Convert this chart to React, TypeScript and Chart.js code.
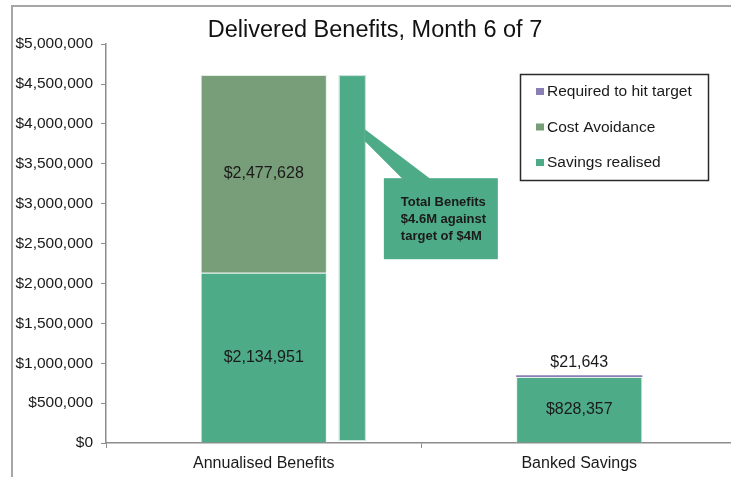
import React, { useEffect, useRef } from "react";
import { Chart, registerables } from "chart.js";

Chart.register(...registerables);

const categories = ["Annualised Benefits", "Banked Savings"];
const savingsRealised = [2134951, 828357];
const costAvoidance = [2477628, 0];
const requiredToHitTarget = [0, 21643];
const yTickStep = 500000;
const yMax = 5000000;
const titleText = "Delivered Benefits, Month 6 of 7";
const calloutLines = ["Total Benefits", "$4.6M against", "target of $4M"];

const C_SAV = "#4eab88";
const C_COST = "#789d79";
const C_REQ = "#8a7fb4";
const FONT = "'Liberation Sans', Arial, sans-serif";

const fmt = (v: number) => "$" + Math.round(v).toLocaleString("en-US");

const framePlugin = {
  id: "frame",
  beforeDraw(chart: any) {
    const ctx = chart.ctx;
    ctx.save();
    ctx.fillStyle = "#ffffff";
    ctx.fillRect(0, 0, chart.width, chart.height);
    ctx.strokeStyle = "#a6a6a6";
    ctx.lineWidth = 2;
    ctx.beginPath();
    ctx.moveTo(12, chart.height);
    ctx.lineTo(12, 6);
    ctx.lineTo(chart.width, 6);
    ctx.stroke();
    ctx.restore();
  },
};

const labelsPlugin = {
  id: "valueLabels",
  afterDatasetsDraw(chart: any) {
    const ctx = chart.ctx;
    ctx.save();
    ctx.font = `16px ${FONT}`;
    ctx.fillStyle = "#1a1a1a";
    ctx.textAlign = "center";
    ctx.textBaseline = "middle";
    chart.data.datasets.forEach((ds: any, di: number) => {
      const meta = chart.getDatasetMeta(di);
      meta.data.forEach((el: any, i: number) => {
        const v = ds.data[i];
        if (!v) return;
        if (ds.labelAbove) {
          ctx.fillText(fmt(v), el.x, el.y - 13);
        } else {
          ctx.fillText(fmt(v), el.x, (el.y + el.base) / 2);
        }
      });
    });
    ctx.restore();
  },
};

const calloutPlugin = {
  id: "callout",
  afterDatasetsDraw(chart: any) {
    const ctx = chart.ctx;
    const y = chart.scales.y;
    const meta = chart.getDatasetMeta(0);
    const el = meta.data[0];
    const total = savingsRealised[0] + costAvoidance[0] + requiredToHitTarget[0];
    const barRight = el.x + el.width / 2;
    const sx0 = barRight + 12;
    const sx1 = barRight + 39;
    const top = y.getPixelForValue(total);
    const bot = y.getPixelForValue(0) - 2;
    const area = chart.chartArea;
    const boxTop = area.top + 134;
    const boxBot = area.top + 215;
    const bx0 = sx1 + 18;
    const bx1 = sx1 + 132;
    ctx.save();
    ctx.fillStyle = C_SAV;
    ctx.strokeStyle = "rgba(220,240,230,0.9)";
    ctx.lineWidth = 1;
    ctx.fillRect(sx0, top, sx1 - sx0, bot - top);
    ctx.strokeRect(sx0 + 0.5, top + 0.5, sx1 - sx0 - 1, bot - top - 1);
    // wedge
    ctx.beginPath();
    ctx.moveTo(sx1 - 1, area.top + 85);
    ctx.lineTo(sx1 + 65, boxTop + 1);
    ctx.lineTo(sx1 + 37, boxTop + 1);
    ctx.lineTo(sx1 - 1, area.top + 97);
    ctx.closePath();
    ctx.fill();
    ctx.fillRect(bx0, boxTop, bx1 - bx0, boxBot - boxTop);
    ctx.fillStyle = "#1a1a1a";
    ctx.font = `bold 13px 'Liberation Sans Narrow', 'Arial Narrow', ${FONT}`;
    ctx.textAlign = "left";
    ctx.textBaseline = "middle";
    const sx = Math.min(1, 87 / ctx.measureText(calloutLines[0]).width);
    calloutLines.forEach((t, i) => {
      ctx.save();
      ctx.translate(bx0 + 17, boxTop + 24 + i * 17);
      ctx.scale(sx, 1);
      ctx.fillText(t, 0, 0);
      ctx.restore();
    });
    ctx.restore();
  },
};

const legendPlugin = {
  id: "boxLegend",
  afterDraw(chart: any) {
    const ctx = chart.ctx;
    const x0 = 520;
    const y0 = 74;
    const w = 188;
    const h = 106;
    ctx.save();
    ctx.strokeStyle = "#2a2a2a";
    ctx.lineWidth = 1.5;
    ctx.strokeRect(x0 + 0.5, y0 + 0.5, w, h);
    const items = chart.data.datasets.slice().reverse();
    ctx.font = `15.5px ${FONT}`;
    ctx.textAlign = "left";
    ctx.textBaseline = "middle";
    items.forEach((ds: any, i: number) => {
      const cy = y0 + 18 + i * 35.5;
      ctx.fillStyle = ds.backgroundColor;
      ctx.fillRect(x0 + 16, cy - 4, 8, 7);
      ctx.fillStyle = "#1a1a1a";
      ctx.fillText(ds.label, x0 + 27, cy);
    });
    ctx.restore();
  },
};

export default function App() {
  const ref = useRef<HTMLCanvasElement>(null);
  useEffect(() => {
    if (!ref.current) return;
    const chart = new Chart(ref.current, {
      type: "bar",
      data: {
        labels: categories,
        datasets: [
          {
            label: "Savings realised",
            data: savingsRealised,
            backgroundColor: C_SAV,
            borderColor: "rgba(220,240,230,0.8)",
            borderWidth: 1,
          },
          {
            label: "Cost Avoidance",
            data: costAvoidance,
            backgroundColor: C_COST,
            borderColor: "rgba(220,235,220,0.8)",
            borderWidth: 1,
          },
          {
            label: "Required to hit target",
            data: requiredToHitTarget,
            backgroundColor: C_REQ,
            borderColor: "rgba(190,185,220,0.8)",
            borderWidth: 0,
            labelAbove: true,
          } as any,
        ],
      },
      options: {
        responsive: false,
        animation: false,
        devicePixelRatio: 1,
        layout: { padding: { left: 13, right: 8, top: 0, bottom: 0 } },
        datasets: {
          bar: { barPercentage: 1, categoryPercentage: 0.4 },
        },
        plugins: {
          legend: { display: false },
          tooltip: { enabled: false },
          title: {
            display: true,
            text: titleText,
            color: "#111",
            font: { family: FONT, size: 23.5, weight: "normal" },
            padding: { top: 16, bottom: 0 },
          },
        },
        scales: {
          x: {
            stacked: true,
            grid: {
              drawOnChartArea: false,
              drawTicks: true,
              tickLength: 5,
              color: "#8c8c8c",
              offset: true,
            },
            border: { display: true, color: "#8c8c8c", width: 1.5 },
            ticks: {
              color: "#1a1a1a",
              font: { family: FONT, size: 16 },
              padding: 6,
              maxRotation: 0,
            },
            afterFit: (s: any) => {
              s.height = 34;
            },
          },
          y: {
            stacked: true,
            min: 0,
            max: yMax,
            grid: {
              drawOnChartArea: false,
              drawTicks: true,
              tickLength: 5,
              color: "#8c8c8c",
            },
            border: { display: true, color: "#8c8c8c", width: 1.5 },
            ticks: {
              stepSize: yTickStep,
              color: "#1a1a1a",
              font: { family: FONT, size: 15.5 },
              padding: 8,
              callback: (v: any) => fmt(Number(v)),
            },
            afterFit: (s: any) => {
              s.width = 93;
            },
          },
        },
      },
      plugins: [framePlugin, calloutPlugin, labelsPlugin, legendPlugin],
    });
    return () => chart.destroy();
  }, []);

  return (
    <div
      style={{
        position: "fixed",
        left: 0,
        top: 0,
        width: 731,
        height: 477,
        overflow: "hidden",
        background: "#fff",
      }}
    >
      <canvas ref={ref} width={745} height={477} style={{ display: "block" }} />
    </div>
  );
}
